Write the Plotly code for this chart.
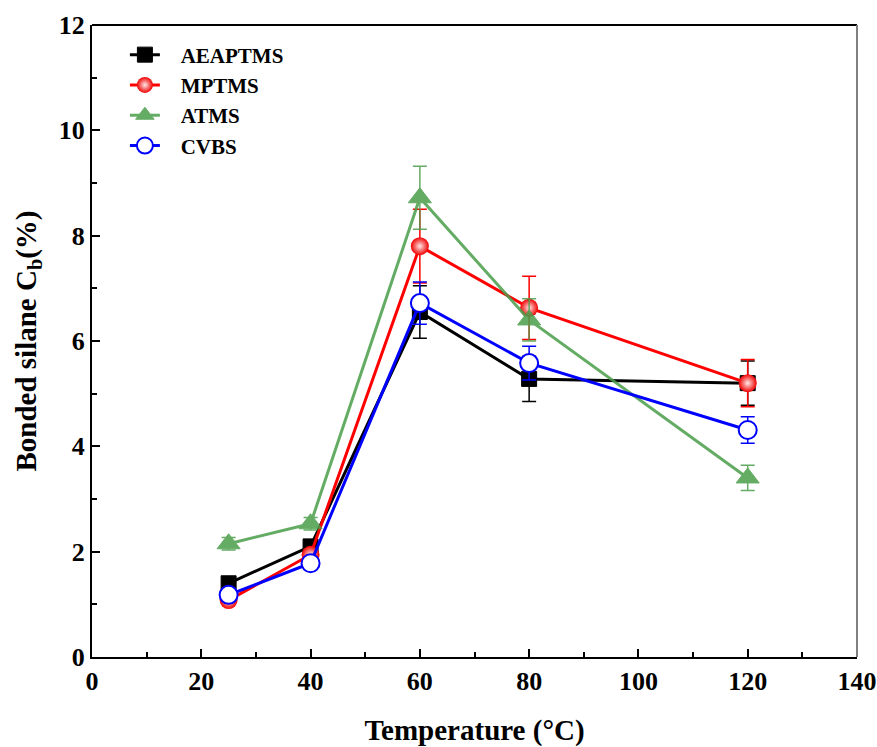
import plotly.graph_objects as go

temps = [25, 40, 60, 80, 120]

aeaptms = [1.40, 2.10, 6.55, 5.28, 5.20]
aeaptms_err = [0.10, 0.12, 0.50, 0.43, 0.42]

mptms = [1.08, 1.94, 7.80, 6.63, 5.20]
mptms_err = [0.08, 0.10, 0.70, 0.60, 0.45]

atms = [2.15, 2.53, 8.72, 6.40, 3.40]
atms_err = [0.12, 0.12, 0.60, 0.40, 0.24]

cvbs = [1.18, 1.78, 6.72, 5.58, 4.31]
cvbs_err = [0.10, 0.10, 0.40, 0.32, 0.25]

font_fam = "Liberation Serif, Times New Roman, serif"

fig = go.Figure()

def add(name, y, err, color, symbol, size, fill, opacity=1.0, gradient=None, line_color=None, lw_marker=1):
    marker = dict(symbol=symbol, size=size, color=fill,
                  line=dict(color=line_color or color, width=lw_marker))
    if gradient:
        marker["gradient"] = gradient
    fig.add_trace(go.Scatter(
        x=temps, y=y, name="\u00a0\u00a0\u00a0<b>%s</b>" % name, mode="lines+markers",
        line=dict(color=color, width=3),
        marker=marker, opacity=opacity,
        error_y=dict(type="data", array=err, visible=True, color=color, thickness=1.5, width=7),
    ))

add("AEAPTMS", aeaptms, aeaptms_err, "black", "square", 15, "black")
add("MPTMS", mptms, mptms_err, "#ff0000", "circle", 18, "#f00000",
    gradient=dict(type="radial", color="#ffe8e8"), lw_marker=0)
add("ATMS", atms, atms_err, "#4a9e4a", "triangle-up", 20, "#4a9e4a", opacity=0.85)
add("CVBS", cvbs, cvbs_err, "#0000ff", "circle", 18, "white", line_color="#0000ff", lw_marker=2)

tick_font = dict(family=font_fam, size=26, color="black")
title_font = dict(family=font_fam, size=29, color="black")

axis_common = dict(
    showline=True, linecolor="black", linewidth=2,
    ticks="inside", ticklen=8, tickwidth=2, tickcolor="black",
    showgrid=False, zeroline=False, automargin=False,
    tickfont=tick_font,
)

xt = [0, 20, 40, 60, 80, 100, 120, 140]
yt = [0, 2, 4, 6, 8, 10, 12]

fig.update_layout(
    width=877, height=747,
    margin=dict(l=92, r=20, t=25, b=90),
    plot_bgcolor="white", paper_bgcolor="white",
    font=dict(family=font_fam, color="black"),
    xaxis=dict(range=[0, 140], tickvals=xt,
               ticktext=["<b>%d</b>" % v for v in xt],
               minor=dict(ticks="inside", ticklen=5, tickwidth=2, tickcolor="black", dtick=10, tick0=0),
               title=dict(text="<b>Temperature (°C)</b>", font=title_font, standoff=28),
               **axis_common),
    yaxis=dict(range=[0, 12], tickvals=yt,
               ticktext=["<b>%d</b>" % v for v in yt],
               minor=dict(ticks="inside", ticklen=5, tickwidth=2, tickcolor="black", dtick=1, tick0=0),
               title=dict(text="<b>Bonded silane C<sub>b</sub>(%)</b>", font=title_font, standoff=14),
               **axis_common),
    legend=dict(x=0.043, y=0.985, xanchor="left", yanchor="top",
                bgcolor="rgba(0,0,0,0)", tracegroupgap=0,
                font=dict(family=font_fam, size=21, color="black")),
    showlegend=True,
)

fig.add_shape(type="line", xref="paper", yref="paper", x0=0, x1=1, y0=1, y1=1,
              line=dict(color="black", width=2))
fig.add_shape(type="line", xref="paper", yref="paper", x0=1, x1=1, y0=0, y1=1,
              line=dict(color="#808080", width=2))

fig.write_html("out.html")
